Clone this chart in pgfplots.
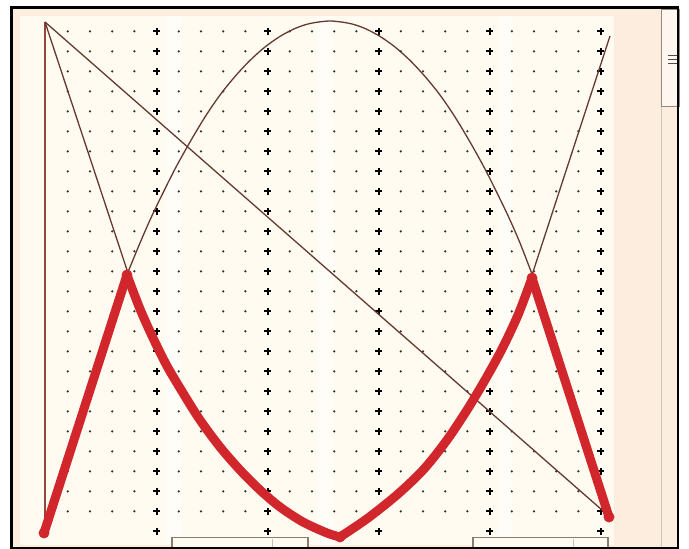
\documentclass[border=0pt]{standalone}
\usepackage{pgfplots}
\usepackage{pgfplotstable}
\pgfplotsset{compat=1.18}
\definecolor{peach}{RGB}{252,237,223}
\definecolor{cream}{RGB}{255,251,240}
\definecolor{thinc}{RGB}{100,58,48}
\definecolor{vred}{RGB}{150,70,60}
\definecolor{thickc}{RGB}{208,38,44}
\definecolor{boxgray}{RGB}{135,125,112}

\pgfplotstableread{
y a b c d e
31.3 156.6 267.6 378.6 489.6 600.6
51.3 156.6 267.6 378.6 489.6 600.6
71.3 156.6 267.6 378.6 489.6 600.6
91.3 156.6 267.6 378.6 489.6 600.6
111.3 156.6 267.6 378.6 489.6 600.6
131.3 156.6 267.6 378.6 489.6 600.6
151.3 156.6 267.6 378.6 489.6 600.6
171.3 156.6 267.6 378.6 489.6 600.6
191.3 156.6 267.6 378.6 489.6 600.6
211.3 156.6 267.6 378.6 489.6 600.6
231.3 156.6 267.6 378.6 489.6 600.6
251.3 156.6 267.6 378.6 489.6 600.6
271.3 156.6 267.6 378.6 489.6 600.6
291.3 156.6 267.6 378.6 489.6 600.6
311.3 156.6 267.6 378.6 489.6 600.6
331.3 156.6 267.6 378.6 489.6 600.6
351.3 156.6 267.6 378.6 489.6 600.6
371.3 156.6 267.6 378.6 489.6 600.6
391.3 156.6 267.6 378.6 489.6 600.6
411.3 156.6 267.6 378.6 489.6 600.6
431.3 156.6 267.6 378.6 489.6 600.6
451.3 156.6 267.6 378.6 489.6 600.6
471.3 156.6 267.6 378.6 489.6 600.6
491.3 156.6 267.6 378.6 489.6 600.6
511.3 156.6 267.6 378.6 489.6 600.6
531.3 156.6 267.6 378.6 489.6 600.6
}\boldgrid

\begin{document}
\begin{tikzpicture}
\pgfplotsset{pix/.style={scale only axis, width=689bp, height=549bp,
  xmin=0, xmax=689, ymin=0, ymax=549, y dir=reverse, hide axis,
  at={(0bp,0bp)}, anchor=south west}}
% backgrounds
\begin{axis}[pix]
\fill[white] (axis cs:0,0) rectangle (axis cs:689,549);
\fill[peach] (axis cs:11,7) rectangle (axis cs:678,548);
\fill[cream] (axis cs:20,16) rectangle (axis cs:614,545);
\fill[white, opacity=0.5] (axis cs:165,16) rectangle (axis cs:182,545);
\fill[white, opacity=0.5] (axis cs:318,16) rectangle (axis cs:334,545);
\fill[white, opacity=0.5] (axis cs:498,16) rectangle (axis cs:512,545);
\end{axis}
% dot grid
\begin{axis}[scale only axis, width=532.8bp, height=500bp,
  xmin=67.8, xmax=600.6, ymin=31.3, ymax=531.3, y dir=reverse,
  at={(67.8bp,17.7bp)}, anchor=south west,
  axis line style={draw=none}, major tick length=0pt,
  xticklabel={\relax}, yticklabel={\relax}, ytick=\empty,
  xticklabel style={inner sep=0pt, outer sep=0pt},
  xtick={67.8,90.0,112.2,134.4,156.6,178.8,201.0,223.2,245.4,267.6,289.8,312.0,334.2,356.4,378.6,400.8,423.0,445.2,467.4,489.6,511.8,534.0,556.2,578.4,600.6},
  xmajorgrids=true,
  major grid style={black!80, line width=2.5bp, line cap=round, dash pattern=on 0bp off 20bp},
  clip=false]
\pgfplotsinvokeforeach{a,b,c,d,e}{
\addplot[only marks, mark=+, mark size=3.2bp, mark options={black, line width=2bp}] table[x=#1, y=y] {\boldgrid};
}
\end{axis}
% curves and widgets
\begin{axis}[pix]
\addplot[vred, line width=1.5bp] coordinates {(45,22) (45,532)};
\addplot[thinc, line width=1.3bp] coordinates {(45,22) (610,517)};
\addplot[thinc, line width=1.3bp] coordinates {(45,22) (128,273)};
\addplot[thinc, line width=1.3bp, smooth] coordinates {
(128,272) (140,243) (150,220) (160,199) (175,169) (190,142) (205,117) (220,95)
(235,76.5) (250,60.4) (265,47) (280,36.4) (295,28.5) (310,23.5) (330,21)
(350,23.5) (365,28.5) (380,36.4) (395,47) (410,60.4) (425,76.5) (440,95)
(455,117) (470,142) (485,169) (500,199) (510,220) (520,243) (532,274)};
\addplot[thinc, line width=1.3bp] coordinates {(532,275) (610,36)};
% thick red
\addplot[thickc, line width=9bp, line cap=round, line join=round] coordinates {(44,533) (127,275)};
\addplot[thickc, line width=9bp, line cap=round, line join=round, smooth] coordinates {
(127,275) (140,309) (153,338) (167,366) (183,393) (200,420) (220,447) (240,470)
(260,490) (280,507) (303,522) (327,533) (340,537)};
\addplot[thickc, line width=9bp, line cap=round, line join=round, smooth] coordinates {
(340,537) (368,518) (398,494) (424,469) (447,440) (467,410) (485,380) (502,349) (518,315) (532,278)};
\addplot[thickc, line width=9bp, line cap=round, line join=round] coordinates {(532,278) (609,517)};
\addplot[only marks, mark=*, mark size=5.2bp, mark options={thickc, draw=thickc}] coordinates {
(44,533) (127,275) (340,537) (532,278) (609,517)};
% boxes at the bottom
\draw[boxgray, line width=1.5bp, fill=cream] (axis cs:172,537.5) rectangle (axis cs:308,553);
\draw[boxgray!50, line width=0.8bp] (axis cs:272,539) -- (axis cs:272,549);
\draw[boxgray, line width=1.5bp, fill=cream] (axis cs:473,537.5) rectangle (axis cs:608,553);
\draw[boxgray!50, line width=0.8bp] (axis cs:573,539) -- (axis cs:573,549);
% scrollbar
\draw[boxgray!45, line width=0.8bp] (axis cs:661,107) -- (axis cs:661,548);
\draw[boxgray!90, line width=1bp, fill=peach!50!white] (axis cs:661,10) rectangle (axis cs:679,107);
\draw[black!70, line width=0.9bp] (axis cs:668,55) -- (axis cs:678,55);
\draw[black!70, line width=0.9bp] (axis cs:668,59) -- (axis cs:678,59);
\draw[black!70, line width=0.9bp] (axis cs:668,63) -- (axis cs:678,63);
% outer border
\draw[black, line width=2.4bp] (axis cs:11.5,7.5) rectangle (axis cs:678,548);
\end{axis}
\end{tikzpicture}
\end{document}
